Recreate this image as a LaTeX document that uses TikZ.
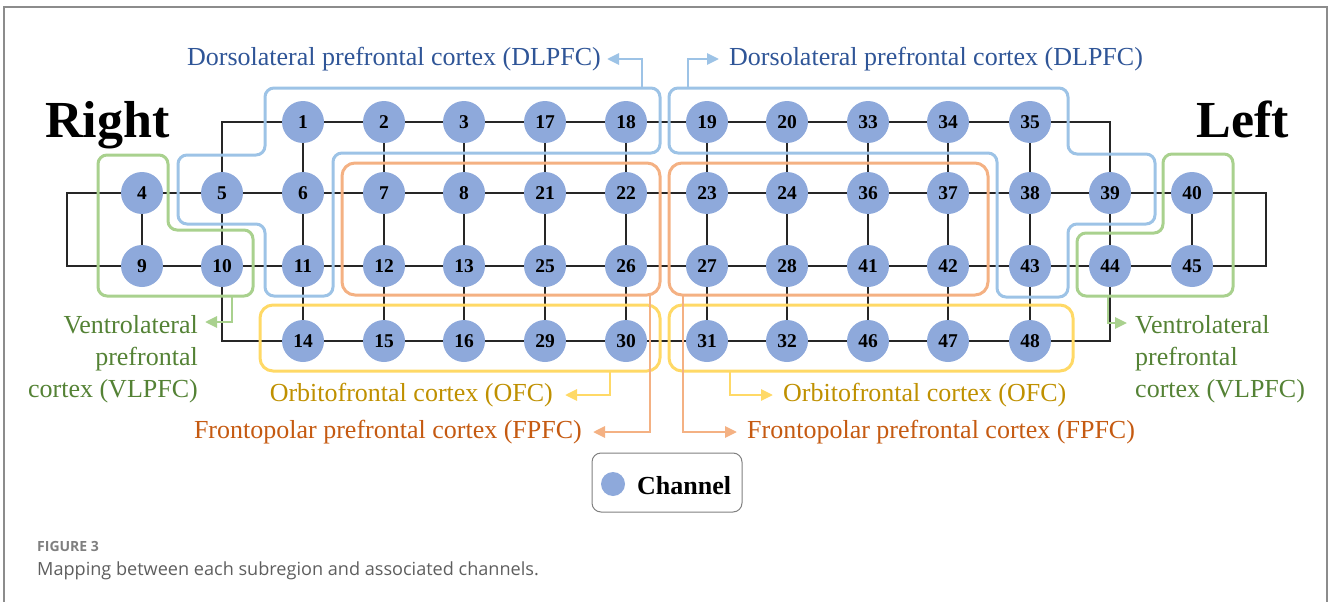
\documentclass[tikz,border=0pt]{standalone}
\usepackage{fontspec}
\setmainfont{Liberation Serif}
\newfontfamily\capfont{Open Sans}
\usetikzlibrary{arrows.meta,backgrounds}
\definecolor{chfill}{HTML}{8EA9DB}
\definecolor{dlline}{HTML}{9DC3E6}
\definecolor{dltext}{HTML}{2F5597}
\definecolor{fpline}{HTML}{F4B183}
\definecolor{fptext}{HTML}{C55A11}
\definecolor{ofline}{HTML}{FFD966}
\definecolor{oftext}{HTML}{BF9000}
\definecolor{vlline}{HTML}{A9D18E}
\definecolor{vltext}{HTML}{548235}
\definecolor{framegray}{HTML}{8C8C8C}
\definecolor{capgray}{HTML}{5E5E5E}
\definecolor{fignogray}{HTML}{7F7F7F}
\begin{document}
\begin{tikzpicture}[x=1pt,y=-1pt,
  ch/.style={circle,fill=chfill,minimum size=42pt,inner sep=0pt,font=\fontsize{19.5}{19.5}\selectfont\bfseries},
  gridline/.style={line width=1.4pt,black!85},
  region/.style={line width=3pt,rounded corners=9pt},
  boxregion/.style={line width=3pt,rounded corners=13pt},
  lead/.style={line width=2.8pt,-{Triangle[length=12pt,width=11pt]}},
  lab/.style={inner ysep=0pt,font=\fontsize{26}{32}\selectfont,text height=17.8pt,text depth=5.2pt},
  mlab/.style={inner sep=0pt,font=\fontsize{26}{32}\selectfont},
  side/.style={inner sep=0pt,font=\fontsize{52}{60}\selectfont\bfseries},
]
\useasboundingbox (0,0) rectangle (1328,602);
% frame
\draw[framegray,line width=1.5pt] (4,602) -- (4,7) -- (1327,7) -- (1327,602);

% channels
\foreach \n/\x/\y in {
  1/303/122,2/384/122,3/464/122,17/545/122,18/626/122,19/707/122,20/787/122,33/868/122,34/948/122,35/1030/122,
  4/142/193,5/222/193,6/303/193,7/384/193,8/464/193,21/545/193,22/626/193,23/707/193,24/787/193,36/868/193,37/948/193,38/1030/193,39/1110/193,40/1192/193,
  9/142/266,10/222/266,11/303/266,12/384/266,13/464/266,25/545/266,26/626/266,27/707/266,28/787/266,41/868/266,42/948/266,43/1030/266,44/1110/266,45/1192/266,
  14/303/341,15/384/341,16/464/341,29/545/341,30/626/341,31/707/341,32/787/341,46/868/341,47/948/341,48/1030/341}
  \node[ch] (n\n) at (\x,\y) {\n};

\coordinate (wl2) at (67,193);
\coordinate (wl3) at (67,266);
\coordinate (er2) at (1266,193);
\coordinate (er3) at (1266,266);

% labels
\node[side,anchor=base west] (right) at (45,137) {Right};
\node[side,anchor=base east] (left) at (1289,137) {Left};

\node[lab,text=dltext,anchor=east,inner xsep=6pt] (dlL) at (607,59) {Dorsolateral prefrontal cortex (DLPFC)};
\node[lab,text=dltext,anchor=west,inner xsep=10pt] (dlR) at (719,59) {Dorsolateral prefrontal cortex (DLPFC)};
\node[lab,text=oftext,anchor=east,inner xsep=12pt] (ofL) at (565,395) {Orbitofrontal cortex (OFC)};
\node[lab,text=oftext,anchor=west,inner xsep=10pt] (ofR) at (773,395) {Orbitofrontal cortex (OFC)};
\node[lab,text=fptext,anchor=east,inner xsep=11pt] (fpL) at (593,432) {Frontopolar prefrontal cortex (FPFC)};
\node[lab,text=fptext,anchor=west,inner xsep=10pt] (fpR) at (737,432) {Frontopolar prefrontal cortex (FPFC)};
\node[mlab,text=vltext,align=right,anchor=north east] (vlL) at (198,315) {Ventrolateral\\prefrontal\\cortex (VLPFC)};
\node[mlab,text=vltext,align=left,anchor=north west] (vlR) at (1135,315) {Ventrolateral\\prefrontal\\cortex (VLPFC)};
\coordinate (vlLt) at (205,322);
\coordinate (vlRt) at (1127,323);

% legend
\node[draw=gray,line width=1pt,rounded corners=9pt,minimum width=150pt,minimum height=59pt] (leg) at (667,482.5) {};
\node[circle,fill=chfill,minimum size=24pt,inner sep=0pt] (legc) at (613,484) {};
\node[inner sep=0pt,anchor=base west,font=\fontsize{26}{26}\selectfont\bfseries] (legt) at (637,494) {Channel};

% caption
\node[inner sep=0pt,anchor=base west,font=\capfont\bfseries\fontsize{14}{14}\selectfont,text=fignogray] (figno) at (37,551) {FIGURE 3};
\node[inner sep=0pt,anchor=base west,font=\capfont\fontsize{18.1}{19}\selectfont,text=capgray] (cap) at (37,575) {Mapping between each subregion and associated channels.};

\begin{scope}[on background layer]
% grid connectors
\foreach \a/\b in {1/2,2/3,3/17,17/18,18/19,19/20,20/33,33/34,34/35,
  4/5,5/6,6/7,7/8,8/21,21/22,22/23,23/24,24/36,36/37,37/38,38/39,39/40,
  9/10,10/11,11/12,12/13,13/25,25/26,26/27,27/28,28/41,41/42,42/43,43/44,44/45,
  14/15,15/16,16/29,29/30,30/31,31/32,32/46,46/47,47/48,
  4/9,5/10,1/6,6/11,11/14,2/7,7/12,12/15,3/8,8/13,13/16,17/21,21/25,25/29,
  18/22,22/26,26/30,19/23,23/27,27/31,20/24,24/28,28/32,33/36,36/41,41/46,
  34/37,37/42,42/47,35/38,38/43,43/48,39/44,40/45}
  \draw[gridline] (n\a) -- (n\b);
\draw[gridline] (n5) |- (n1);
\draw[gridline] (n35) -| (n39);
\draw[gridline] (n10) |- (n14);
\draw[gridline] (n48) -| (n44);
\draw[gridline] (n4) -- (wl2) -- (wl3) -- (n9);
\draw[gridline] (n40) -- (er2) -- (er3) -- (n45);

% regions
\draw[region,dlline] (460,88) -- (660,88) -- (660,153) -- (333,153) -- (333,296) -- (265,296) -- (265,224) -- (178,224) -- (178,155) -- (265,155) -- (265,88) -- cycle;
\draw[region,dlline] (860,88) -- (1068,88) -- (1068,154) -- (1155,154) -- (1155,224) -- (1068,224) -- (1068,297) -- (997,297) -- (997,153) -- (669,153) -- (669,88) -- cycle;
\draw[boxregion,fpline] (342,163) rectangle (660,295);
\draw[boxregion,fpline] (669,163) rectangle (988,295);
\draw[boxregion,ofline] (260,305) rectangle (660,371);
\draw[boxregion,ofline] (669,305) rectangle (1073,371);
\draw[region,vlline] (130,155) -- (168,155) -- (168,230) -- (253,230) -- (253,296) -- (98,296) -- (98,155) -- cycle;
\draw[region,vlline] (1200,154) -- (1233,154) -- (1233,296) -- (1077,296) -- (1077,233) -- (1163,233) -- (1163,154) -- cycle;
\end{scope}

% leaders
\coordinate (dlLs) at (642,88);
\coordinate (dlRs) at (688,88);
\coordinate (ofLs) at (610,371);
\coordinate (ofRs) at (730,371);
\coordinate (fpLs) at (650,295);
\coordinate (fpRs) at (683,295);
\coordinate (vlLs) at (232,296);
\coordinate (vlRs) at (1108,296);
\draw[lead,dlline] (dlLs) |- (dlL);
\draw[lead,dlline] (dlRs) |- (dlR);
\draw[lead,ofline] (ofLs) |- (ofL);
\draw[lead,ofline] (ofRs) |- (ofR);
\draw[lead,fpline] (fpLs) |- (fpL);
\draw[lead,fpline] (fpRs) |- (fpR);
\draw[lead,vlline] (vlLs) |- (vlLt);
\draw[lead,vlline] (vlRs) |- (vlRt);
\end{tikzpicture}
\end{document}
